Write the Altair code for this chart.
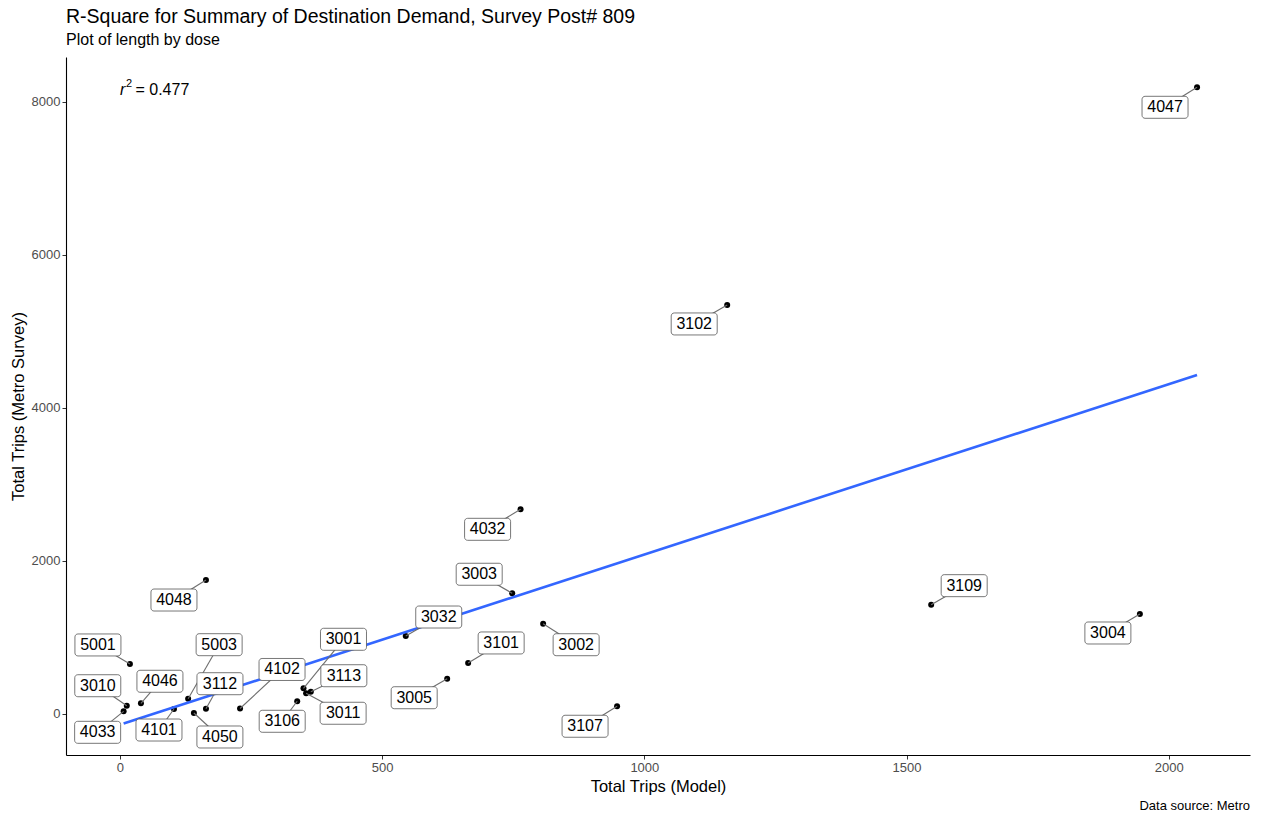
import altair as alt
import pandas as pd

# Zone-level totals: trips from the model vs trips from the Metro survey
zones = ["4047", "3102", "4032", "3003", "3032", "3002", "3101", "3005", "3107",
         "3109", "3004", "4048", "5001", "3010", "4033", "4046", "4101", "5003",
         "3112", "4050", "4102", "3106", "3001", "3113", "3011"]
model_trips = [2054, 1158, 764, 748, 545, 807, 664, 624, 948,
               1547, 1945, 164, 19, 13, 7, 40, 103, 130,
               164, 141, 229, 338, 350, 364, 355]
survey_trips = [8191, 5346, 2675, 1578, 1019, 1180, 667, 461, 101,
                1429, 1307, 1751, 654, 108, 35, 140, 65, 200,
                69, 13, 72, 166, 336, 291, 271]

# Repelled-label nudges (screen pixels, +y is down), one per zone
label_nudge_px = [(-32, 20), (-33, 19), (-33, 20), (-33, -19), (33, -19), (33, 21),
                  (33, -20), (-33, 19), (-32, 20), (33, -19), (-32, 19), (-32, 20),
                  (-32, -19), (-29, -20), (-26, 21), (19, -22), (-15, 21), (31, -54),
                  (14, -25), (26, 24), (42, -39), (-15, 20), (40, -49), (33, -16),
                  (37, 20)]

r_squared = 0.477
x_ticks = [0, 500, 1000, 1500, 2000]
y_ticks = [0, 2000, 4000, 6000, 8000]

W, H = 1184, 698
X_DOMAIN = [-102.9, 2155.0]
Y_DOMAIN = [-536.0, 8587.0]
BOX_W, BOX_H = 46, 22
FONT = "Liberation Sans"

px_x = W / (X_DOMAIN[1] - X_DOMAIN[0])
px_y = H / (Y_DOMAIN[1] - Y_DOMAIN[0])

df = pd.DataFrame({"zone": zones, "model": model_trips, "survey": survey_trips})
df["lx"] = df["model"] + [d[0] / px_x for d in label_nudge_px]
df["ly"] = df["survey"] - [d[1] / px_y for d in label_nudge_px]
df["bx0"] = df["lx"] - BOX_W / 2 / px_x
df["bx1"] = df["lx"] + BOX_W / 2 / px_x
df["by0"] = df["ly"] - BOX_H / 2 / px_y
df["by1"] = df["ly"] + BOX_H / 2 / px_y

x_scale = alt.Scale(domain=X_DOMAIN, nice=False, zero=False)
y_scale = alt.Scale(domain=Y_DOMAIN, nice=False, zero=False)

x_axis = alt.Axis(values=x_ticks, format="d", title="Total Trips (Model)", grid=False,
                  domainColor="black", domainWidth=1.1, tickColor="#333333", tickSize=4,
                  labelColor="#4d4d4d", labelFontSize=13, labelPadding=2, labelFont=FONT,
                  titleFont=FONT, titleFontSize=16.5, titleFontWeight="normal",
                  titleColor="black", titleY=31, titleBaseline="middle")
y_axis = alt.Axis(values=y_ticks, format="d", title="Total Trips (Metro Survey)", grid=False,
                  domainColor="black", domainWidth=1.1, tickColor="#333333", tickSize=4,
                  labelColor="#4d4d4d", labelFontSize=13, labelPadding=2, labelFont=FONT,
                  titleFont=FONT, titleFontSize=16.5, titleFontWeight="normal",
                  titleColor="black", titleX=-48, titleY=H / 2, titleBaseline="middle")


def X(field):
    return alt.X(field, type="quantitative", scale=x_scale, axis=x_axis)


def Y(field):
    return alt.Y(field, type="quantitative", scale=y_scale, axis=y_axis)


base = alt.Chart(df)

segments = base.mark_rule(color="#6e6e6e", strokeWidth=1.1).encode(
    x=X("model"), y=Y("survey"), x2="lx", y2="ly")

points = base.mark_circle(color="black", opacity=1, size=36).encode(
    x=X("model"), y=Y("survey"))

fit = base.transform_regression("model", "survey").mark_line(
    color="#3366FF", strokeWidth=2.6).encode(x=X("model"), y=Y("survey"))

boxes = base.mark_rect(fill="white", stroke="#555555", strokeWidth=0.8,
                       cornerRadius=3).encode(
    x=X("bx0"), x2="bx1", y=Y("by0"), y2="by1")

labels = base.mark_text(font=FONT, fontSize=16, color="black", baseline="middle",
                        align="center").encode(
    x=X("lx"), y=Y("ly"), text="zone")

r2_df = pd.DataFrame({"x": [0], "y": [8150], "val": [f"= {r_squared}"]})
r2_base = alt.Chart(r2_df)
r_sym = r2_base.mark_text(font=FONT, fontSize=16, fontStyle="italic", align="left",
                          baseline="middle", color="black").encode(
    x=X("x"), y=Y("y"), text=alt.value("r"))
r_sup = r2_base.mark_text(font=FONT, fontSize=11, align="left", baseline="middle",
                          color="black", dx=6, dy=-6).encode(
    x=X("x"), y=Y("y"), text=alt.value("2"))
r_val = r2_base.mark_text(font=FONT, fontSize=16, align="left", baseline="middle",
                          color="black", dx=15.5).encode(
    x=X("x"), y=Y("y"), text="val")

caption = alt.Chart(pd.DataFrame({"c": ["Data source: Metro"]})).mark_text(
    font=FONT, fontSize=13, align="right", baseline="middle", color="black").encode(
    x=alt.value(W), y=alt.value(H + 51), text="c")

chart = alt.layer(points, fit, segments, boxes, labels, r_sym, r_sup, r_val, caption).properties(
    width=W, height=H,
    autosize=alt.AutoSizeParams(type="none"),
    padding={"left": 66, "top": 57, "right": 14, "bottom": 59},
    title=alt.TitleParams(
        text="R-Square for Summary of Destination Demand, Survey Post# 809",
        subtitle="Plot of length by dose",
        anchor="start", frame="group", font=FONT, subtitleFont=FONT,
        fontSize=19.5, subtitleFontSize=16, fontWeight="normal",
        color="black", subtitleColor="black", offset=8, subtitlePadding=5),
).configure_view(strokeWidth=0, stroke="transparent")

chart.save("out.html", embed_options={"renderer": "svg", "actions": False})
